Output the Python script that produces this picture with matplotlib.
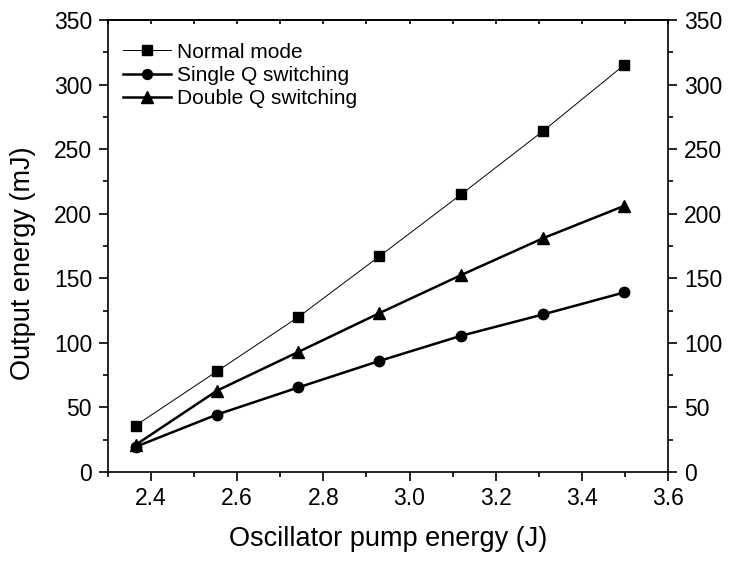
import matplotlib.pyplot as plt
import numpy as np
from matplotlib.ticker import MultipleLocator

plt.rcParams['font.family'] = ['Liberation Sans', 'DejaVu Sans']

# datos
pump = [2.364, 2.553, 2.742, 2.930, 3.120, 3.310, 3.498]
normal = [36, 78, 120, 167, 215, 264, 315]
single_q = [19.5, 44.5, 65.5, 86, 105.5, 122, 139]
double_q = [21, 63, 93, 123, 152.5, 181, 206]
xtick_labels = ["2.4", "2.6", "2.8", "3.0", "3.2", "3.4", "3.6"]

fig = plt.figure(figsize=(7.3, 5.63), dpi=100)
ax = fig.add_axes([0.148, 0.1616, 0.767, 0.803])

ax.plot(pump, normal, marker="s", markersize=7, linewidth=0.7, color="black", label="Normal mode")
ax.plot(pump, single_q, marker="o", markersize=7.5, linewidth=1.8, color="black", label="Single Q switching")
ax.plot(pump, double_q, marker="^", markersize=8.5, linewidth=1.8, color="black", label="Double Q switching")

ax.set_xlim(2.3, 3.6)
ax.set_ylim(0, 350)
ax.xaxis.set_minor_locator(MultipleLocator(0.1))
ax.yaxis.set_major_locator(MultipleLocator(50))
ax.yaxis.set_minor_locator(MultipleLocator(25))
ax.set_xticks(np.arange(2.4, 3.61, 0.2))
ax.set_xticklabels(xtick_labels)

ax.tick_params(axis="both", which="both", direction="out", labelsize=16.5, width=1.2)
ax.tick_params(axis="both", which="major", length=6.5)
ax.tick_params(axis="both", which="minor", length=3.5)
ax.tick_params(axis="y", which="both", right=True, labelright=True, pad=5)
ax.tick_params(axis="x", which="both", pad=4)

# marcas del eje superior hacia adentro
ax_top = ax.secondary_xaxis("top")
ax_top.set_xticks(np.arange(2.4, 3.61, 0.2))
ax_top.xaxis.set_minor_locator(MultipleLocator(0.1))
ax_top.tick_params(axis="x", which="both", direction="in", length=3, width=1.2, labeltop=False)
ax_top.spines["top"].set_linewidth(1.2)

for lado in ["left", "right", "top", "bottom"]:
    ax.spines[lado].set_linewidth(1.2)

ax.set_xlabel("Oscillator pump energy (J)", fontsize=19.5, labelpad=12)
ax.set_ylabel("Output energy (mJ)", fontsize=19.5, labelpad=13)
ax.yaxis.label.set_y(0.462)

ax.legend(loc="upper left", bbox_to_anchor=(0.0, 0.982), frameon=False, fontsize=15,
          handlelength=2.3, handletextpad=0.3, borderaxespad=0.4, borderpad=0.3,
          labelspacing=0.2, markerscale=0.95)

plt.savefig("out.png", dpi=100)
